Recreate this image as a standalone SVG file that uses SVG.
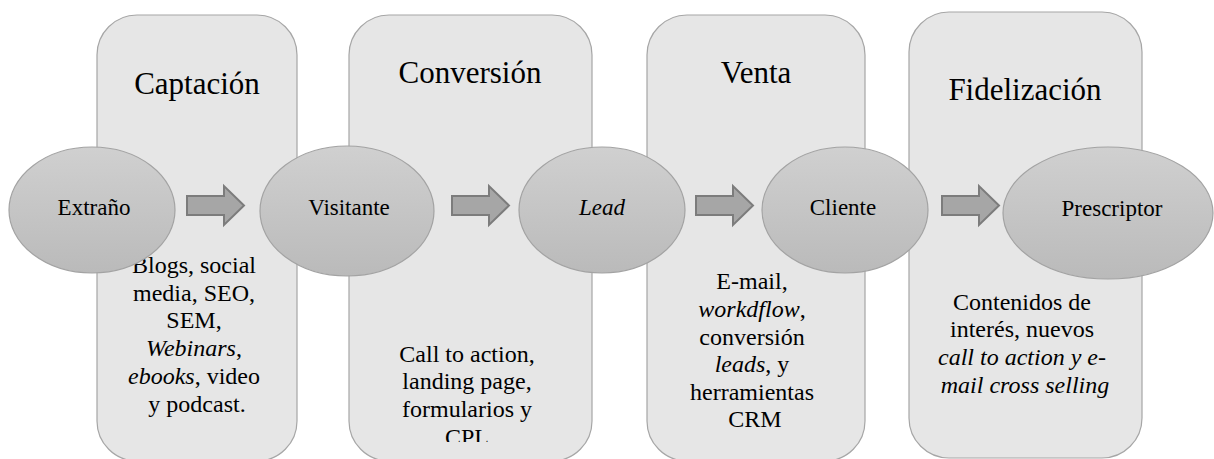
<svg xmlns="http://www.w3.org/2000/svg" width="1214" height="459" viewBox="0 0 1214 459">
  <defs>
    <linearGradient id="ovalFill" x1="0" y1="0" x2="0" y2="1">
      <stop offset="0" stop-color="#d0d0d0"/>
      <stop offset="1" stop-color="#bababa"/>
    </linearGradient>
    <clipPath id="clipConv">
      <rect x="349" y="0" width="243" height="442"/>
    </clipPath>
    <path id="blockArrow" d="M0,10 H37 V0 L57,19.5 L37,39 V29 H0 Z"/>
  </defs>
  <style>
    .panel { fill: #e6e6e6; stroke: #a6a6a6; stroke-width: 1.2; }
    .oval { fill: url(#ovalFill); stroke: #a3a3a3; stroke-width: 1.2; }
    .arrow { fill: #a6a6a6; stroke: #7c7c7c; stroke-width: 2; }
    .txt { fill: #000; text-anchor: middle; font-family: "Liberation Serif", "Nimbus Roman", "Noto Serif", FreeSerif, Times, "DejaVu Serif", serif; }
    .title { font-size: 31px; }
    .label { font-size: 23px; }
    .body { font-size: 24px; }
    .it { font-style: italic; }
  </style>

  <rect width="1214" height="459" fill="#ffffff"/>

  <!-- stage panels with titles and descriptions -->
  <g id="panel-captacion">
    <rect class="panel" x="97" y="15" width="200" height="446" rx="40" ry="40"/>
    <text class="txt title" x="197" y="94">Captación</text>
    <text class="txt body">
      <tspan x="197" y="273">Blogs, social</tspan>
      <tspan x="197" y="301">media, SEO,</tspan>
      <tspan x="197" y="328">SEM,</tspan>
      <tspan x="197" y="356"><tspan class="it">Webinars</tspan>,</tspan>
      <tspan x="197" y="384"><tspan class="it">ebooks</tspan>, video</tspan>
      <tspan x="197" y="412">y podcast.</tspan>
    </text>
  </g>

  <g id="panel-conversion">
    <rect class="panel" x="349" y="15" width="243" height="446" rx="40" ry="40"/>
    <text class="txt title" x="470" y="83">Conversión</text>
    <g clip-path="url(#clipConv)">
      <text class="txt body">
        <tspan x="470" y="362">Call to action,</tspan>
        <tspan x="470" y="389">landing page,</tspan>
        <tspan x="470" y="417">formularios y</tspan>
        <tspan x="470" y="445">CPL.</tspan>
      </text>
    </g>
  </g>

  <g id="panel-venta">
    <rect class="panel" x="647" y="15" width="218" height="446" rx="40" ry="40"/>
    <text class="txt title" x="756" y="83">Venta</text>
    <text class="txt body">
      <tspan x="755" y="289">E-mail,</tspan>
      <tspan x="755" y="317"><tspan class="it">workdflow</tspan>,</tspan>
      <tspan x="755" y="345">conversión</tspan>
      <tspan x="755" y="372"><tspan class="it">leads</tspan>, y</tspan>
      <tspan x="755" y="400">herramientas</tspan>
      <tspan x="755" y="427">CRM</tspan>
    </text>
  </g>

  <g id="panel-fidelizacion">
    <rect class="panel" x="909" y="12" width="233" height="446" rx="40" ry="40"/>
    <text class="txt title" x="1025" y="100">Fidelización</text>
    <text class="txt body">
      <tspan x="1025" y="310">Contenidos de</tspan>
      <tspan x="1025" y="337">interés, nuevos</tspan>
      <tspan x="1025" y="365" class="it">call to action y e-</tspan>
      <tspan x="1025" y="393" class="it">mail cross selling</tspan>
    </text>
  </g>

  <!-- connectors: block arrows between the stage ovals -->
  <g id="connectors">
    <use href="#blockArrow" class="arrow" x="187" y="186"/>
    <use href="#blockArrow" class="arrow" x="452" y="186"/>
    <use href="#blockArrow" class="arrow" x="696" y="186"/>
    <use href="#blockArrow" class="arrow" x="942" y="186"/>
  </g>

  <!-- visitor states -->
  <g id="node-extrano">
    <ellipse class="oval" cx="92" cy="210" rx="83" ry="63"/>
    <text class="txt label" x="94" y="215">Extraño</text>
  </g>
  <g id="node-visitante">
    <ellipse class="oval" cx="347" cy="211" rx="87" ry="65"/>
    <text class="txt label" x="349" y="215">Visitante</text>
  </g>
  <g id="node-lead">
    <ellipse class="oval" cx="602" cy="210" rx="83" ry="63"/>
    <text class="txt label it" x="602" y="215">Lead</text>
  </g>
  <g id="node-cliente">
    <ellipse class="oval" cx="845" cy="210" rx="83" ry="63"/>
    <text class="txt label" x="843" y="215">Cliente</text>
  </g>
  <g id="node-prescriptor">
    <ellipse class="oval" cx="1108" cy="213" rx="105" ry="66"/>
    <text class="txt label" x="1112" y="216">Prescriptor</text>
  </g>
</svg>
